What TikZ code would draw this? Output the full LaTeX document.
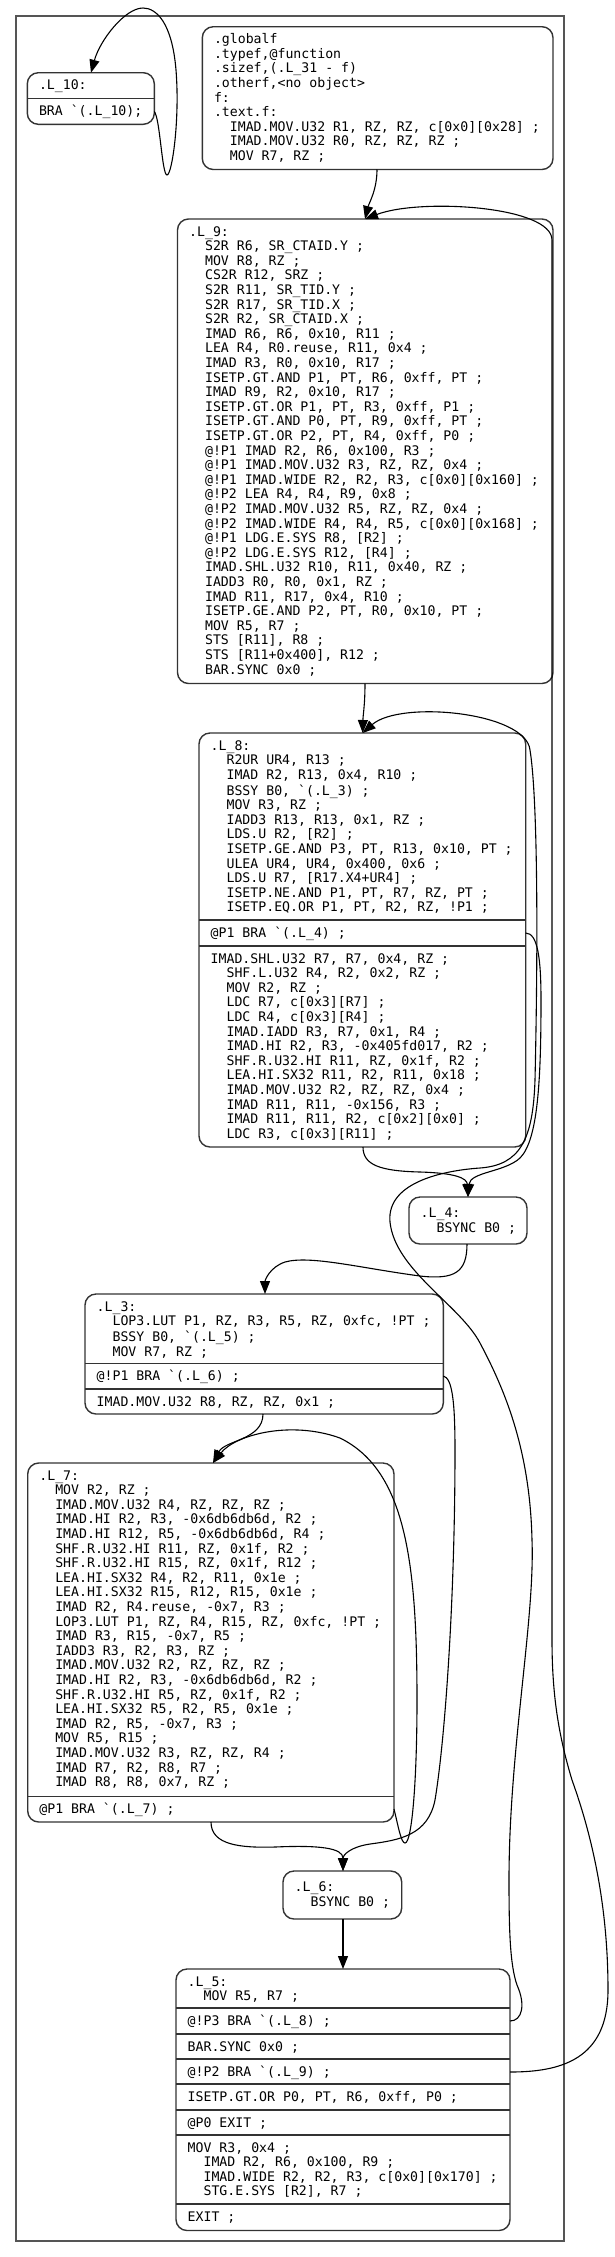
\documentclass[tikz,border=0pt]{standalone}
\usepackage{fontspec}
\setmonofont{DejaVu Sans Mono}
\usetikzlibrary{arrows.meta}
\definecolor{boxc}{HTML}{333333}
\definecolor{clc}{HTML}{555555}
\newcommand{\ia}{\strut}
\newcommand{\ib}{\strut\phantom{MM}}
\begin{document}
\begin{tikzpicture}[x=1pt,y=-1pt,
  cluster/.style={draw=clc, line width=2pt, anchor=north west, inner sep=0, outer sep=0},
  box/.style={draw=boxc, line width=1.4pt, rounded corners=11pt, anchor=north west, inner sep=0, outer sep=0},
  fsep/.style={draw=boxc, line width=1.4pt},
  txt/.style={anchor=north west, inner sep=0, outer sep=0, align=left, font={\ttfamily\fontsize{13.2}{14.6}\selectfont\frenchspacing}},
  edge/.style={draw=black, line width=1.1pt, -{Triangle[length=13pt,width=10pt]}}]
\useasboundingbox (0,0) rectangle (614,2257);
\node[cluster, minimum width=548pt, minimum height=2225pt] (cl) at (16,16) {};

% L_10
\node[box, minimum width=127pt, minimum height=51.6pt] (L10) at (27.3,72.7) {};
\draw[fsep] (L10.west |- 0,98.5) -- (L10.east |- 0,98.5);
\node[txt] (t10a) at (39,79.5) {\ia .L\_10:};
\node[txt] (t10b) at (39,105.3) {\ia BRA `(.L\_10);};

% globalf
\node[box, minimum width=350.7pt, minimum height=142.8pt] (GF) at (202.3,26.7) {};
\node[txt] (tgf) at (214,33.5) {\ia .globalf\\
\ia .typef,@function\\
\ia .sizef,(.L\_31 - f)\\
\ia .otherf,<no object>\\
\ia f:\\
\ia .text.f:\\
\ib IMAD.MOV.U32 R1, RZ, RZ, c[0x0][0x28] ;\\
\ib IMAD.MOV.U32 R0, RZ, RZ, RZ ;\\
\ib MOV R7, RZ ;};

% L_9
\node[box, minimum width=375.5pt, minimum height=464.5pt] (L9) at (177.5,219) {};
\node[txt] (t9) at (189.2,225.8) {\ia .L\_9:\\
\ib S2R R6, SR\_CTAID.Y ;\\
\ib MOV R8, RZ ;\\
\ib CS2R R12, SRZ ;\\
\ib S2R R11, SR\_TID.Y ;\\
\ib S2R R17, SR\_TID.X ;\\
\ib S2R R2, SR\_CTAID.X ;\\
\ib IMAD R6, R6, 0x10, R11 ;\\
\ib LEA R4, R0.reuse, R11, 0x4 ;\\
\ib IMAD R3, R0, 0x10, R17 ;\\
\ib ISETP.GT.AND P1, PT, R6, 0xff, PT ;\\
\ib IMAD R9, R2, 0x10, R17 ;\\
\ib ISETP.GT.OR P1, PT, R3, 0xff, P1 ;\\
\ib ISETP.GT.AND P0, PT, R9, 0xff, PT ;\\
\ib ISETP.GT.OR P2, PT, R4, 0xff, P0 ;\\
\ib @!P1 IMAD R2, R6, 0x100, R3 ;\\
\ib @!P1 IMAD.MOV.U32 R3, RZ, RZ, 0x4 ;\\
\ib @!P1 IMAD.WIDE R2, R2, R3, c[0x0][0x160] ;\\
\ib @!P2 LEA R4, R4, R9, 0x8 ;\\
\ib @!P2 IMAD.MOV.U32 R5, RZ, RZ, 0x4 ;\\
\ib @!P2 IMAD.WIDE R4, R4, R5, c[0x0][0x168] ;\\
\ib @!P1 LDG.E.SYS R8, [R2] ;\\
\ib @!P2 LDG.E.SYS R12, [R4] ;\\
\ib IMAD.SHL.U32 R10, R11, 0x40, RZ ;\\
\ib IADD3 R0, R0, 0x1, RZ ;\\
\ib IMAD R11, R17, 0x4, R10 ;\\
\ib ISETP.GE.AND P2, PT, R0, 0x10, PT ;\\
\ib MOV R5, R7 ;\\
\ib STS [R11], R8 ;\\
\ib STS [R11+0x400], R12 ;\\
\ib BAR.SYNC 0x0 ;};

% L_8
\node[box, minimum width=326.7pt, minimum height=414pt] (L8) at (199,733) {};
\draw[fsep] (L8.west |- 0,920) -- (L8.east |- 0,920);
\draw[fsep] (L8.west |- 0,946) -- (L8.east |- 0,946);
\node[txt] (t8a) at (210.7,739.8) {\ia .L\_8:\\
\ib R2UR UR4, R13 ;\\
\ib IMAD R2, R13, 0x4, R10 ;\\
\ib BSSY B0, `(.L\_3) ;\\
\ib MOV R3, RZ ;\\
\ib IADD3 R13, R13, 0x1, RZ ;\\
\ib LDS.U R2, [R2] ;\\
\ib ISETP.GE.AND P3, PT, R13, 0x10, PT ;\\
\ib ULEA UR4, UR4, 0x400, 0x6 ;\\
\ib LDS.U R7, [R17.X4+UR4] ;\\
\ib ISETP.NE.AND P1, PT, R7, RZ, PT ;\\
\ib ISETP.EQ.OR P1, PT, R2, RZ, !P1 ;};
\node[txt] (t8b) at (210.7,926.8) {\ia @P1 BRA `(.L\_4) ;};
\node[txt] (t8c) at (210.7,952.8) {\ia IMAD.SHL.U32 R7, R7, 0x4, RZ ;\\
\ib SHF.L.U32 R4, R2, 0x2, RZ ;\\
\ib MOV R2, RZ ;\\
\ib LDC R7, c[0x3][R7] ;\\
\ib LDC R4, c[0x3][R4] ;\\
\ib IMAD.IADD R3, R7, 0x1, R4 ;\\
\ib IMAD.HI R2, R3, -0x405fd017, R2 ;\\
\ib SHF.R.U32.HI R11, RZ, 0x1f, R2 ;\\
\ib LEA.HI.SX32 R11, R2, R11, 0x18 ;\\
\ib IMAD.MOV.U32 R2, RZ, RZ, 0x4 ;\\
\ib IMAD R11, R11, -0x156, R3 ;\\
\ib IMAD R11, R11, R2, c[0x2][0x0] ;\\
\ib LDC R3, c[0x3][R11] ;};

% L_4
\node[box, minimum width=118pt, minimum height=47pt] (L4) at (409,1197) {};
\node[txt] (t4) at (420.7,1207.5) {\ia .L\_4:\\
\ib BSYNC B0 ;};

% L_3
\node[box, minimum width=358.3pt, minimum height=120pt] (L3) at (85,1294) {};
\draw[fsep] (L3.west |- 0,1363.5) -- (L3.east |- 0,1363.5);
\draw[fsep] (L3.west |- 0,1389) -- (L3.east |- 0,1389);
\node[txt] (t3a) at (96.7,1300.8) {\ia .L\_3:\\
\ib LOP3.LUT P1, RZ, R3, R5, RZ, 0xfc, !PT ;\\
\ib BSSY B0, `(.L\_5) ;\\
\ib MOV R7, RZ ;};
\node[txt] (t3b) at (96.7,1370.3) {\ia @!P1 BRA `(.L\_6) ;};
\node[txt] (t3c) at (96.7,1395.8) {\ia IMAD.MOV.U32 R8, RZ, RZ, 0x1 ;};

% L_7
\node[box, minimum width=366.3pt, minimum height=359pt] (L7) at (27.7,1463) {};
\draw[fsep] (L7.west |- 0,1796.5) -- (L7.east |- 0,1796.5);
\node[txt] (t7a) at (39.4,1469.8) {\ia .L\_7:\\
\ib MOV R2, RZ ;\\
\ib IMAD.MOV.U32 R4, RZ, RZ, RZ ;\\
\ib IMAD.HI R2, R3, -0x6db6db6d, R2 ;\\
\ib IMAD.HI R12, R5, -0x6db6db6d, R4 ;\\
\ib SHF.R.U32.HI R11, RZ, 0x1f, R2 ;\\
\ib SHF.R.U32.HI R15, RZ, 0x1f, R12 ;\\
\ib LEA.HI.SX32 R4, R2, R11, 0x1e ;\\
\ib LEA.HI.SX32 R15, R12, R15, 0x1e ;\\
\ib IMAD R2, R4.reuse, -0x7, R3 ;\\
\ib LOP3.LUT P1, RZ, R4, R15, RZ, 0xfc, !PT ;\\
\ib IMAD R3, R15, -0x7, R5 ;\\
\ib IADD3 R3, R2, R3, RZ ;\\
\ib IMAD.MOV.U32 R2, RZ, RZ, RZ ;\\
\ib IMAD.HI R2, R3, -0x6db6db6d, R2 ;\\
\ib SHF.R.U32.HI R5, RZ, 0x1f, R2 ;\\
\ib LEA.HI.SX32 R5, R2, R5, 0x1e ;\\
\ib IMAD R2, R5, -0x7, R3 ;\\
\ib MOV R5, R15 ;\\
\ib IMAD.MOV.U32 R3, RZ, RZ, R4 ;\\
\ib IMAD R7, R2, R8, R7 ;\\
\ib IMAD R8, R8, 0x7, RZ ;};
\node[txt] (t7b) at (39.4,1803.3) {\ia @P1 BRA `(.L\_7) ;};

% L_6
\node[box, minimum width=118.7pt, minimum height=48pt] (L6) at (283,1871) {};
\node[txt] (t6) at (294.7,1881.5) {\ia .L\_6:\\
\ib BSYNC B0 ;};

% L_5
\node[box, minimum width=334pt, minimum height=261.5pt] (L5) at (176,1969) {};
\foreach \yy in {2008,2034,2059,2084,2110,2135,2204}
  \draw[fsep] (L5.west |- 0,\yy) -- (L5.east |- 0,\yy);
\node[txt] (t5a) at (187.7,1975.8) {\ia .L\_5:\\
\ib MOV R5, R7 ;};
\node[txt] (t5b) at (187.7,2014.8) {\ia @!P3 BRA `(.L\_8) ;};
\node[txt] (t5c) at (187.7,2040.8) {\ia BAR.SYNC 0x0 ;};
\node[txt] (t5d) at (187.7,2065.8) {\ia @!P2 BRA `(.L\_9) ;};
\node[txt] (t5e) at (187.7,2090.8) {\ia ISETP.GT.OR P0, PT, R6, 0xff, P0 ;};
\node[txt] (t5f) at (187.7,2116.8) {\ia @P0 EXIT ;};
\node[txt] (t5g) at (187.7,2141.8) {\ia MOV R3, 0x4 ;\\
\ib IMAD R2, R6, 0x100, R9 ;\\
\ib IMAD.WIDE R2, R2, R3, c[0x0][0x170] ;\\
\ib STG.E.SYS [R2], R7 ;};
\node[txt] (t5h) at (187.7,2210.8) {\ia EXIT ;};

% ports
\coordinate (L10out) at (154.3,111.5);
\coordinate (L10in) at (91,72.7);
\coordinate (GFout) at (377,169.5);
\coordinate (L9in) at (365,219);
\coordinate (L9out) at (365,683.5);
\coordinate (L8in) at (362.7,733);
\coordinate (L8p1) at (525.7,933);
\coordinate (L8out) at (363,1147);
\coordinate (L4in) at (468,1197);
\coordinate (L4out) at (467,1244);
\coordinate (L3in) at (265,1294);
\coordinate (L3p1) at (443.3,1376);
\coordinate (L3out) at (263,1414);
\coordinate (L7in) at (213,1463);
\coordinate (L7p1) at (394,1809);
\coordinate (L7out) at (211,1822);
\coordinate (L6in) at (343,1871);
\coordinate (L6out) at (343,1919);
\coordinate (L5in) at (343,1969);
\coordinate (L5p3) at (510,2021);
\coordinate (L5p2) at (510,2072);

% edges
\draw[edge] (L10out) .. controls (160,118) and (162,175) .. (167,175)
  .. controls (172,175) and (180,120) .. (176,70)
  .. controls (172,22) and (156,8) .. (143,8)
  .. controls (125,8) and (100,40) .. (L10in);
\draw[edge] (GFout) .. controls (377,190) and (369,203) .. (L9in);
\draw[edge] (L9out) .. controls (365,705) and (363,715) .. (L8in);
\draw[edge] (L8p1) .. controls (538,933) and (541,960) .. (541,1000)
  .. controls (541,1080) and (538,1140) .. (520,1158)
  .. controls (505,1172) and (470,1172) .. (L4in);
\draw[edge] (L8out) .. controls (363,1165) and (380,1171) .. (420,1172)
  .. controls (455,1173) and (467,1178) .. (L4in);
\draw[edge] (L4out) .. controls (467,1272) and (455,1280) .. (420,1276)
  .. controls (360,1268) and (310,1255) .. (285,1262)
  .. controls (270,1267) and (265,1280) .. (L3in);
\draw[edge] (L3p1) .. controls (452,1378) and (455,1400) .. (455,1450)
  .. controls (455,1600) and (445,1740) .. (435,1800)
  .. controls (428,1835) and (400,1840) .. (370,1844)
  .. controls (350,1847) and (343,1855) .. (L6in);
\draw[edge] (L3out) .. controls (263,1440) and (225,1440) .. (L7in);
\draw[edge] (L7p1) .. controls (398,1825) and (401,1843) .. (405,1843)
  .. controls (412,1843) and (417,1780) .. (417,1700)
  .. controls (417,1560) and (405,1470) .. (340,1438)
  .. controls (290,1420) and (235,1435) .. (L7in);
\draw[edge] (L7out) .. controls (211,1845) and (240,1848) .. (275,1847)
  .. controls (320,1845) and (343,1848) .. (L6in);
\draw[edge] (L6out) -- (L5in);
\draw[edge] (L5p3) .. controls (522,2021) and (526,2005) .. (517,1985)
  .. controls (510,1965) and (509,1930) .. (509,1880)
  .. controls (509,1750) and (535,1620) .. (532,1540)
  .. controls (530,1450) and (505,1390) .. (480,1343)
  .. controls (460,1305) and (395,1270) .. (390,1222)
  .. controls (386,1180) and (450,1170) .. (480,1168)
  .. controls (520,1165) and (533,1140) .. (535,1080)
  .. controls (538,950) and (538,800) .. (530,750)
  .. controls (526,712) and (400,700) .. (L8in);
\draw[edge] (L5p2) .. controls (560,2072) and (608,2060) .. (608,1990)
  .. controls (608,1900) and (590,1830) .. (572,1780)
  .. controls (560,1740) and (552,1700) .. (552,1640)
  -- (552,240)
  .. controls (552,206) and (420,198) .. (L9in);
\end{tikzpicture}
\end{document}
